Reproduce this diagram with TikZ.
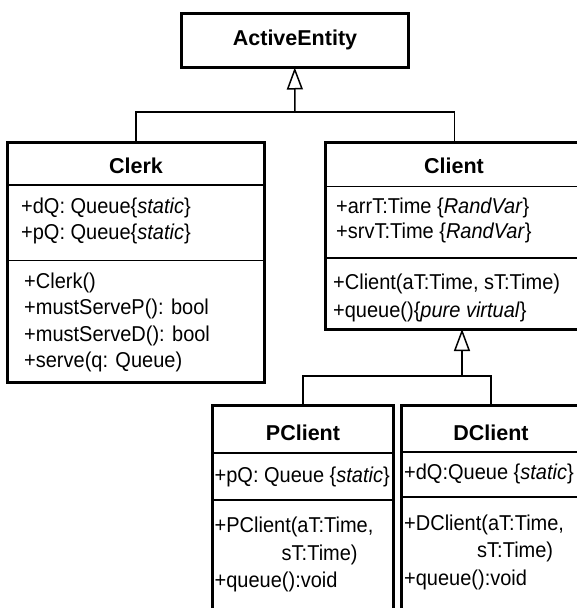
\documentclass[tikz,border=0pt]{standalone}
\usepackage{fontspec}
\setmainfont{Liberation Sans}
\newfontfamily\bodyfont[FakeStretch=0.93]{Liberation Sans}
\usetikzlibrary{arrows.meta}
\begin{document}
\begin{tikzpicture}[x=1pt,y=-1pt,
  classbox/.style={draw, line width=3pt, inner sep=0pt, outer sep=0pt, anchor=north west, fill=white},
  sepline/.style={line width=1.6pt},
  conn/.style={line width=1.5pt},
  inherit/.style={conn, -{Triangle[open, length=22pt, width=16pt, line width=1.5pt]}},
  ttl/.style={inner sep=0pt, anchor=base, font=\bfseries\fontsize{21.5}{25}\selectfont},
  txt/.style={inner sep=0pt, anchor=base west, font=\bodyfont\fontsize{21.5}{26}\selectfont}]
\useasboundingbox (0,0) rectangle (577,608);
\clip (0,0) rectangle (577,608);
\fill[white] (0,0) rectangle (577,608);

% ActiveEntity
\node[classbox, minimum width=227.5pt, minimum height=54pt] (ae) at (181,13.5) {};
\node[ttl] (aet) at (295,45) {ActiveEntity};

% Clerk
\node[classbox, minimum width=257pt, minimum height=240pt] (clerk) at (7.5,142.5) {};
\draw[sepline] (7.5,185) -- (264.5,185);
\draw[sepline] (7.5,260.5) -- (264.5,260.5);
\node[ttl] (clerkt) at (136,173) {Clerk};
\node[txt] (clerka1) at (21,213) {+dQ: Queue\{\textit{static}\}};
\node[txt] (clerka2) at (21,239) {+pQ: Queue\{\textit{static}\}};
\node[txt] (clerko1) at (24,288) {+Clerk()};
\node[txt] (clerko2) at (24,314.5) {+mustServeP(): bool};
\node[txt] (clerko3) at (24,341) {+mustServeD(): bool};
\node[txt] (clerko4) at (24,367) {+serve(q: Queue)};

% Client
\node[classbox, minimum width=257.5pt, minimum height=186.5pt] (client) at (325.5,142.5) {};
\draw[sepline] (325.5,186.5) -- (583,186.5);
\draw[sepline] (325.5,258) -- (583,258);
\node[ttl] (clientt) at (454,173) {Client};
\node[txt] (clienta1) at (336,213) {+arrT:Time \{\textit{RandVar}\}};
\node[txt] (clienta2) at (336,238.5) {+srvT:Time \{\textit{RandVar}\}};
\node[txt] (cliento1) at (333,289) {+Client(aT:Time, sT:Time)};
\node[txt] (cliento2) at (333,317) {+queue()\{\textit{pure virtual}\}};

% PClient
\node[classbox, minimum width=180.5pt, minimum height=215pt] (pclient) at (212.5,405.5) {};
\draw[sepline] (212.5,453) -- (393,453);
\draw[sepline] (212.5,500) -- (393,500);
\node[ttl] (pclientt) at (303,440) {PClient};
\node[txt] (pclienta1) at (214.5,482) {+pQ: Queue \{\textit{static}\}};
\node[txt] (pcliento1) at (214.5,532) {+PClient(aT:Time,};
\node[txt] (pcliento2) at (281.5,560) {sT:Time)};
\node[txt] (pcliento3) at (214.5,587) {+queue():void};

% DClient
\node[classbox, minimum width=180pt, minimum height=215pt] (dclient) at (401,405.5) {};
\draw[sepline] (401,452) -- (581,452);
\draw[sepline] (401,497) -- (581,497);
\node[ttl] (dclientt) at (491,440) {DClient};
\node[txt] (dclienta1) at (404,479) {+dQ:Queue \{\textit{static}\}};
\node[txt] (dcliento1) at (404,530) {+DClient(aT:Time,};
\node[txt] (dcliento2) at (477,557) {sT:Time)};
\node[txt] (dcliento3) at (404,585) {+queue():void};

% Inheritance: Clerk, Client -> ActiveEntity
\coordinate (j1) at (295,112);
\draw[conn] (clerk.north) |- (j1);
\draw[conn] (client.north) |- (j1);
\draw[inherit] (j1) -- (ae.south);

% Inheritance: PClient, DClient -> Client
\coordinate (j2) at (462,376);
\draw[conn] (pclient.north) |- (j2);
\draw[conn] (dclient.north) |- (j2);
\draw[inherit] (j2) -- (j2 |- client.south);
\end{tikzpicture}
\end{document}
